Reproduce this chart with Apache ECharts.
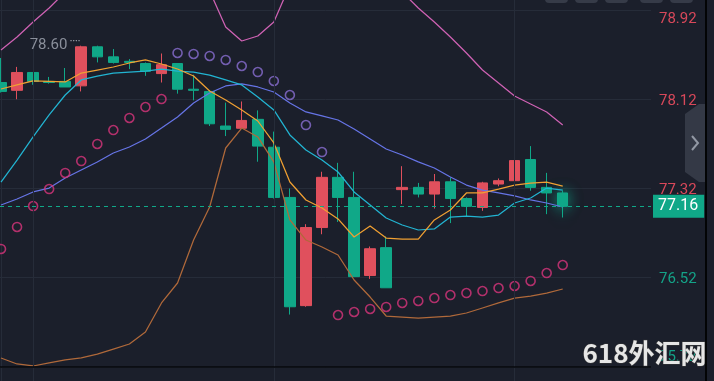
<!DOCTYPE html>
<html><head><meta charset="utf-8">
<script src="https://cdn.jsdelivr.net/npm/echarts@6/dist/echarts.min.js"></script>
<style>html,body{margin:0;padding:0;background:#1b1f2b;}#c{width:714px;height:381px;}</style>
</head><body><div id="c"></div>
<script>
// ---- data ----
const bars = [0,1,2,3,4,5,6,7,8,9,10,11,12,13,14,15,16,17,18,19,20,21,22,23,24,25,26,27,28,29,30,31,32,33,34,35];
const opens  = [78.27,78.20,78.36,78.28,78.28,78.24,78.59,78.50,78.46,78.44,78.35,78.44,78.21,78.19,77.88,77.86,77.94,77.69,77.24,76.27,76.97,77.42,77.24,76.54,76.79,77.31,77.33,77.27,77.38,77.23,77.15,77.36,77.39,77.58,77.33,77.28];
const closes = [78.19,78.36,78.28,78.27,78.23,78.59,78.50,78.45,78.45,78.37,78.43,78.21,78.20,77.90,77.85,77.93,77.70,77.24,76.26,76.97,77.42,77.24,76.53,76.78,76.43,77.33,77.27,77.38,77.23,77.16,77.37,77.39,77.57,77.33,77.28,77.16];
const lows   = [78.18,78.12,78.25,78.26,78.23,78.19,78.45,78.44,78.39,78.33,78.27,78.17,78.11,77.88,77.79,77.86,77.56,77.23,76.19,76.26,76.91,77.02,76.53,76.51,76.43,77.18,77.24,77.14,77.01,77.07,77.12,77.34,77.39,77.30,77.09,77.06];
const highs  = [78.49,78.41,78.36,78.32,78.40,78.60,78.60,78.57,78.48,78.45,78.53,78.44,78.34,78.20,78.09,78.10,78.02,77.83,77.32,77.00,77.47,77.55,77.47,76.80,76.89,77.52,77.37,77.45,77.42,77.24,77.38,77.41,77.62,77.70,77.46,77.30];
const maFast = [78.212,78.248,78.284,78.280,78.275,78.355,78.382,78.409,78.445,78.472,78.436,78.391,78.328,78.194,78.113,78.024,77.925,77.728,77.378,77.217,77.145,77.047,76.885,76.984,76.876,76.867,76.867,77.038,77.127,77.280,77.280,77.315,77.351,77.369,77.378,77.342];
const maSlow = [77.378,77.575,77.782,77.979,78.158,78.293,78.328,78.355,78.364,78.373,78.391,78.373,78.364,78.337,78.293,78.248,78.140,78.024,77.800,77.665,77.575,77.468,77.289,77.172,77.056,76.993,76.948,76.957,77.064,77.073,77.064,77.082,77.190,77.235,77.324,77.306];
const bollMid = [77.172,77.226,77.289,77.324,77.414,77.486,77.558,77.638,77.692,77.764,77.862,77.961,78.086,78.176,78.239,78.257,78.230,78.185,78.086,78.006,77.970,77.934,77.853,77.764,77.674,77.620,77.558,77.504,77.423,77.351,77.306,77.280,77.253,77.217,77.190,77.154];
const bollUp = [78.561,78.678,78.812,78.938,79.081,79.15,79.20,79.22,79.22,79.20,79.18,79.15,79.12,79.090,78.768,78.642,78.687,78.812,79.144,79.30,79.35,79.35,79.30,79.25,79.18,79.081,78.938,78.812,78.678,78.535,78.382,78.266,78.149,78.077,78.006,77.889];
const bollLow = [75.801,75.747,75.729,75.756,75.783,75.801,75.836,75.881,75.926,76.034,76.294,76.473,76.858,77.154,77.683,77.862,77.782,77.558,77.038,76.858,76.796,76.724,76.500,76.347,76.177,76.168,76.159,76.168,76.177,76.204,76.249,76.294,76.338,76.356,76.383,76.419];
const sar = [76.778,76.975,77.163,77.315,77.459,77.566,77.719,77.844,77.952,78.050,78.122,78.535,78.526,78.508,78.472,78.418,78.364,78.284,78.158,77.889,77.647,76.186,76.213,76.240,76.258,76.294,76.312,76.338,76.365,76.383,76.401,76.428,76.446,76.491,76.562,76.634];
const yTicks = [75.72, 76.52, 77.32, 78.12, 78.92];
const lastPrice = 77.16;
const highMark = 78.60;
const highMarkIndex = 5;
const gridXIndices = [2, 17, 32];
const watermark = '618外汇网';

// ---- styling ----
const RED = '#e0505d', GREEN = '#10a888', GRIDC = '#262c39', BG = '#1b1f2b';
const LRED = '#d8485a', LGREEN = '#14a388';

const candleData = bars.map((x, i) => {
  const v = [x, opens[i], closes[i], lows[i], highs[i]];
  if (i === bars.length - 1) return {value: v, itemStyle: {shadowBlur: 14, shadowColor: 'rgba(16,168,136,0.9)'}};
  return v;
});
const pairs = (arr) => arr.map((v, i) => [bars[i], v]);
const sarAbove = bars.map((x, i) => sar[i] > highs[i] ? [x, sar[i]] : [x, '-']);
const sarBelow = bars.map((x, i) => sar[i] < lows[i] ? [x, sar[i]] : [x, '-']);

const chart = echarts.init(document.getElementById('c'), null, {renderer: 'canvas'});
const lineS = (name, data, color) => ({
  name, type: 'line', data: pairs(data), z: 3, showSymbol: false, symbol: 'none', smooth: false,
  lineStyle: {color, width: 1.25}, silent: true
});
const sarS = (name, data, color) => ({
  name, type: 'scatter', data, z: 4, symbol: 'circle', symbolSize: 9, silent: true,
  itemStyle: {color: 'rgba(0,0,0,0)', borderColor: color, borderWidth: 1.6}
});
chart.setOption({
  animation: false,
  backgroundColor: BG,
  grid: {left: 0, right: 63, top: 0, bottom: 0},
  xAxis: {
    type: 'value', min: -0.0623, max: 40.50,
    axisLine: {show: false}, axisTick: {show: false}, axisLabel: {show: false}, splitLine: {show: false}
  },
  yAxis: {
    type: 'value', position: 'right', offset: 2, min: 75.5945, max: 79.0096, scale: true,
    axisLine: {show: true, lineStyle: {color: GRIDC, width: 1}},
    axisTick: {show: false, customValues: yTicks},
    splitLine: {show: true, lineStyle: {color: GRIDC, width: 1}},
    axisLabel: {
      customValues: yTicks, margin: 6, fontFamily: 'Roboto', fontSize: 15,
      formatter: (v) => {
        const c = v > lastPrice ? 'r' : 'g';
        const p = v >= 78.9 ? 'T' : (v <= 75.8 ? 'B' : 'M');
        return '{' + c + p + '|' + v.toFixed(2) + '}';
      },
      rich: {
        rT: {color: LRED, fontSize: 15, fontFamily: 'Roboto', padding: [18, 0, 0, 0]},
        rM: {color: LRED, fontSize: 15, fontFamily: 'Roboto', padding: [4, 0, 0, 0]},
        gM: {color: LGREEN, fontSize: 15, fontFamily: 'Roboto', padding: [4, 0, 0, 0]},
        gB: {color: LGREEN, fontSize: 15, fontFamily: 'Roboto', padding: [0, 0, 20, 0]}
      }
    }
  },
  series: [
    {
      name: 'grid', type: 'line', data: [], z: 1, silent: true,
      markLine: {
        silent: true, symbol: ['none', 'none'], animation: false,
        label: {show: false},
        data: gridXIndices.map(ix => ({xAxis: ix, lineStyle: {color: GRIDC, type: 'solid', width: 1}}))
          .concat([{yAxis: yTicks[0], lineStyle: {color: '#07080c', type: 'solid', width: 1.5}}])
      }
    },
    {
      name: 'K', type: 'candlestick', layout: 'horizontal', data: candleData,
      encode: {x: 0, y: [1, 2, 3, 4]}, z: 2, barWidth: 11, silent: true,
      itemStyle: {color: RED, color0: GREEN, borderColor: RED, borderColor0: GREEN, borderWidth: 1},
      markLine: {
        silent: true, symbol: ['none', 'none'], animation: false, z: 10,
        data: [{
          yAxis: lastPrice,
          lineStyle: {color: GREEN, type: [4, 4], width: 1},
          label: {
            show: true, position: 'end', distance: 2, formatter: (p) => p.value.toFixed(2),
            backgroundColor: GREEN, color: '#ffffff', padding: [3, 6, 3, 5],
            fontSize: 16, fontFamily: 'Roboto', lineHeight: 17
          }
        }]
      },
      markPoint: {
        silent: true, symbol: 'circle', symbolSize: 0, animation: false,
        data: [{coord: [highMarkIndex, highMark], value: highMark}],
        label: {
          show: true, position: 'left', distance: 1,
          formatter: (p) => '{v|' + p.value.toFixed(2) + '}{d| ····}',
          rich: {
            v: {color: '#8a8f9b', fontSize: 15, fontFamily: 'Roboto'},
            d: {color: '#c4c8d0', fontSize: 10, fontFamily: 'Roboto', padding: [0, 0, 7, 0]}
          }
        }
      }
    },
    lineS('UP', bollUp, '#cf62b4'),
    lineS('LOW', bollLow, '#b0693a'),
    lineS('MID', bollMid, '#6674e6'),
    lineS('MA10', maSlow, '#22b4d2'),
    lineS('MA5', maFast, '#f0a032'),
    sarS('SAR_up', sarAbove, '#8a6ed2'),
    sarS('SAR_dn', sarBelow, '#d8347c')
  ],
  graphic: [
    {type: 'rect', shape: {x: 545, y: -10, width: 23, height: 13, r: 4}, style: {fill: '#363b48'}, z: 50},
    {type: 'rect', shape: {x: 575, y: -10, width: 23, height: 13, r: 4}, style: {fill: '#363b48'}, z: 50},
    {type: 'rect', shape: {x: 605, y: -10, width: 23, height: 13, r: 4}, style: {fill: '#363b48'}, z: 50},
    {type: 'rect', shape: {x: 640, y: -10, width: 23, height: 13, r: 4}, style: {fill: '#363b48'}, z: 50},
    {type: 'rect', shape: {x: 670, y: -10, width: 23, height: 13, r: 4}, style: {fill: '#363b48'}, z: 50},
    {type: 'polygon', shape: {points: [[685, 114], [699, 104], [705, 104], [705, 182], [699, 182], [685, 172]]}, style: {fill: '#343946'}, z: 50},
    {type: 'polyline', shape: {points: [[692, 136], [698, 143], [692, 150]]}, style: {stroke: '#9298a4', lineWidth: 2, fill: null}, z: 51},
    {type: 'rect', shape: {x: 705, y: 0, width: 2, height: 381}, style: {fill: '#030405'}, z: 50},
    {type: 'text', left: 582, top: 340, z: 100,
      style: {text: watermark, font: 'bold 26px "Noto Sans CJK SC"', fill: '#e6e6e6', stroke: '#3a3a3a', lineWidth: 1}}
  ]
});
</script></body></html>
